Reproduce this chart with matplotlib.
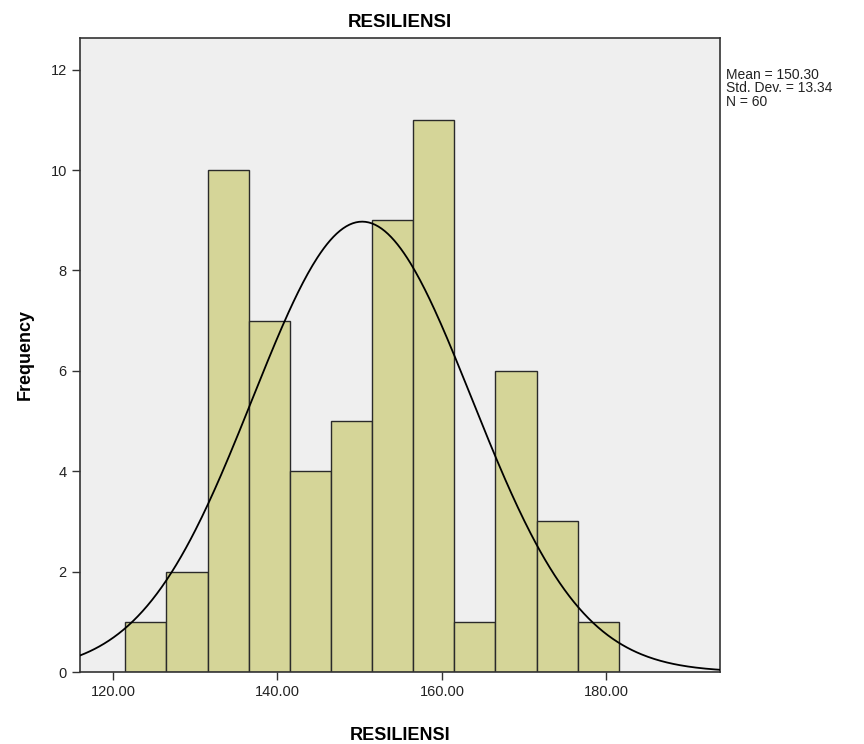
import numpy as np
import matplotlib
matplotlib.use("Agg")
import matplotlib.pyplot as plt

# Data
bin_edges = [121.5, 126.5, 131.5, 136.5, 141.5, 146.5, 151.5, 156.5, 161.5, 166.5, 171.5, 176.5, 181.5]
counts = [1, 2, 10, 7, 4, 5, 9, 11, 1, 6, 3, 1]
mean_val = 150.30
std_val = 13.34
n_val = 60
x_ticks = [120, 140, 160, 180]
x_tick_labels = ["120.00", "140.00", "160.00", "180.00"]
y_ticks = [0, 2, 4, 6, 8, 10, 12]

plt.rcParams['font.family'] = ['Liberation Sans', 'DejaVu Sans']

fig = plt.figure(figsize=(8.64, 7.44), dpi=100)
fig.patch.set_facecolor('white')
ax = fig.add_axes([80/864, 1-672/744, (720-80)/864, (672-38)/744])
ax.set_facecolor('#efefef')

edges = np.array(bin_edges)
widths = np.diff(edges)
ax.bar(edges[:-1], counts, width=widths, align='edge',
       color='#d5d598', edgecolor='#2a2a2a', linewidth=1.0, zorder=2)

xmin, xmax = 116.0, 193.8
xs = np.linspace(xmin, xmax, 400)
bw = widths[0]
pdf = n_val * bw / (std_val * np.sqrt(2*np.pi)) * np.exp(-0.5*((xs-mean_val)/std_val)**2)
ax.plot(xs, pdf, color='black', linewidth=1.3, zorder=3)

ax.set_xlim(xmin, xmax)
ax.set_ylim(0, 12.63)
ax.set_xticks(x_ticks)
ax.set_xticklabels(x_tick_labels, fontsize=10.5, color='#222222')
ax.set_yticks(y_ticks)
ax.set_yticklabels([str(v) for v in y_ticks], fontsize=10.5, color='#222222')
ax.tick_params(direction='out', length=6, width=1, color='#333333')

for s in ax.spines.values():
    s.set_color('#333333')
    s.set_linewidth(1.2)

ax.set_xlabel('RESILIENSI', fontsize=13, fontweight='bold', labelpad=20)
ax.set_ylabel('Frequency', fontsize=13, fontweight='bold', labelpad=12)
ax.set_title('RESILIENSI', fontsize=13.5, fontweight='bold', pad=8)

fig.text(726/864, 1-68/744, f"Mean = {mean_val:.2f}\nStd. Dev. = {std_val:.2f}\nN = {n_val}",
         fontsize=10, va='top', ha='left', linespacing=0.95, color='#222222')

fig.savefig('out.png', dpi=100)
